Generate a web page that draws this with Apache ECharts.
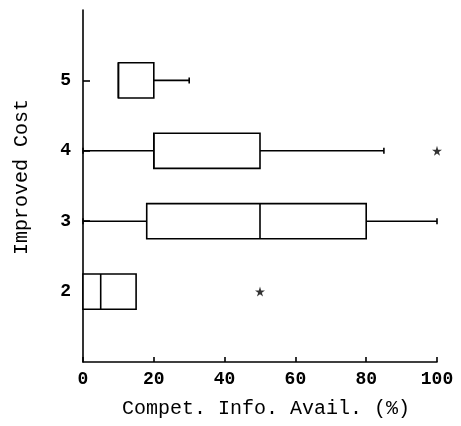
<!DOCTYPE html>
<html>
<head>
<meta charset="utf-8">
<script src="https://cdn.jsdelivr.net/npm/echarts@6/dist/echarts.min.js"></script>
<style>
  html, body { margin: 0; padding: 0; background: #fff; }
  #chart { width: 461px; height: 426px; }
</style>
</head>
<body>
<div id="chart"></div>
<script>
// Levels of "Improved Cost" (1 and 6 are padding rows, left unlabeled)
const levels = ['1', '2', '3', '4', '5', '6'];
const boxLevels = ['2', '3', '4', '5'];

// Five-number summaries per level (percent)
const minVals = [0, 0, 0, 10];
const q1Vals = [0, 18, 20, 10];
const medianVals = [5, 50, 20, 10];
const q3Vals = [15, 80, 50, 20];
const maxVals = [15, 100, 85, 30];

// Outlying observations: [percent, level]
const outlierVals = [50, 100];
const outlierLevels = ['2', '4'];

const xTicks = [0, 20, 40, 60, 80, 100];

const FONT = '"Liberation Mono", "DejaVu Sans Mono", monospace';

const boxData = boxLevels.map((lv, i) => [
  levels.indexOf(lv), minVals[i], q1Vals[i], medianVals[i], q3Vals[i], maxVals[i]
]);
const outlierData = outlierVals.map((v, i) => [v, levels.indexOf(outlierLevels[i])]);

const STAR = 'path://M50,0 L61,35 L98,35 L68,57 L79,91 L50,70 L21,91 L32,57 L2,35 L39,35 Z';

function renderBox(params, api) {
  const y = api.value(0);
  const mn = api.value(1), q1 = api.value(2), md = api.value(3), q3 = api.value(4), mx = api.value(5);
  const pMin = api.coord([mn, y]);
  const pQ1 = api.coord([q1, y]);
  const pMd = api.coord([md, y]);
  const pQ3 = api.coord([q3, y]);
  const pMax = api.coord([mx, y]);
  const h = api.size([0, 1])[1] * 0.5;
  const cap = 3;
  const ls = { stroke: '#000', lineWidth: 1.6, fill: null };
  const children = [];
  if (mn < q1) {
    children.push({ type: 'line', shape: { x1: pMin[0], y1: pMin[1], x2: pQ1[0], y2: pQ1[1] }, style: ls });
    children.push({ type: 'line', shape: { x1: pMin[0], y1: pMin[1] - cap, x2: pMin[0], y2: pMin[1] + cap }, style: ls });
  }
  if (mx > q3) {
    children.push({ type: 'line', shape: { x1: pQ3[0], y1: pQ3[1], x2: pMax[0], y2: pMax[1] }, style: ls });
    children.push({ type: 'line', shape: { x1: pMax[0], y1: pMax[1] - cap, x2: pMax[0], y2: pMax[1] + cap }, style: ls });
  }
  children.push({
    type: 'rect',
    shape: { x: pQ1[0], y: pQ1[1] - h / 2, width: pQ3[0] - pQ1[0], height: h },
    style: { stroke: '#000', lineWidth: 1.6, fill: '#fff' }
  });
  children.push({ type: 'line', shape: { x1: pMd[0], y1: pMd[1] - h / 2, x2: pMd[0], y2: pMd[1] + h / 2 }, style: ls });
  return { type: 'group', children: children };
}

const chart = echarts.init(document.getElementById('chart'), null, { renderer: 'canvas' });
chart.setOption({
  animation: false,
  backgroundColor: '#fff',
  grid: { left: 83, right: 24, top: 10, bottom: 64, containLabel: false },
  xAxis: {
    type: 'value',
    min: xTicks[0],
    max: xTicks[xTicks.length - 1],
    interval: 20,
    name: 'Compet. Info. Avail. (%)',
    nameLocation: 'middle',
    nameGap: 37,
    nameTextStyle: { fontFamily: FONT, fontSize: 20, color: '#000', padding: [0, 0, 0, 12] },
    axisLine: { show: true, lineStyle: { color: '#000', width: 1.6 } },
    axisTick: { show: true, inside: true, length: 5, lineStyle: { color: '#000', width: 1.6 } },
    axisLabel: { fontFamily: FONT, fontSize: 18, fontWeight: 'bold', color: '#000', margin: 8 },
    splitLine: { show: false }
  },
  yAxis: {
    type: 'category',
    data: levels,
    boundaryGap: false,
    name: 'Improved Cost',
    nameLocation: 'middle',
    nameGap: 51,
    nameTextStyle: { fontFamily: FONT, fontSize: 20, color: '#000', padding: [0, 0, 0, 18] },
    axisLine: { show: true, lineStyle: { color: '#000', width: 1.6 } },
    axisTick: {
      show: true, inside: true, length: 7,
      interval: (i) => i >= 1 && i <= 4,
      lineStyle: { color: '#000', width: 1.6 }
    },
    axisLabel: {
      fontFamily: FONT, fontSize: 18, fontWeight: 'bold', color: '#000', margin: 12,
      interval: (i) => i >= 1 && i <= 4
    },
    splitLine: { show: false }
  },
  series: [
    {
      type: 'custom',
      renderItem: renderBox,
      encode: { x: [1, 2, 3, 4, 5], y: 0 },
      data: boxData,
      z: 3
    },
    {
      type: 'scatter',
      symbol: STAR,
      symbolSize: 10,
      itemStyle: { color: '#000' },
      data: outlierData,
      z: 4
    }
  ]
});
</script>
</body>
</html>
